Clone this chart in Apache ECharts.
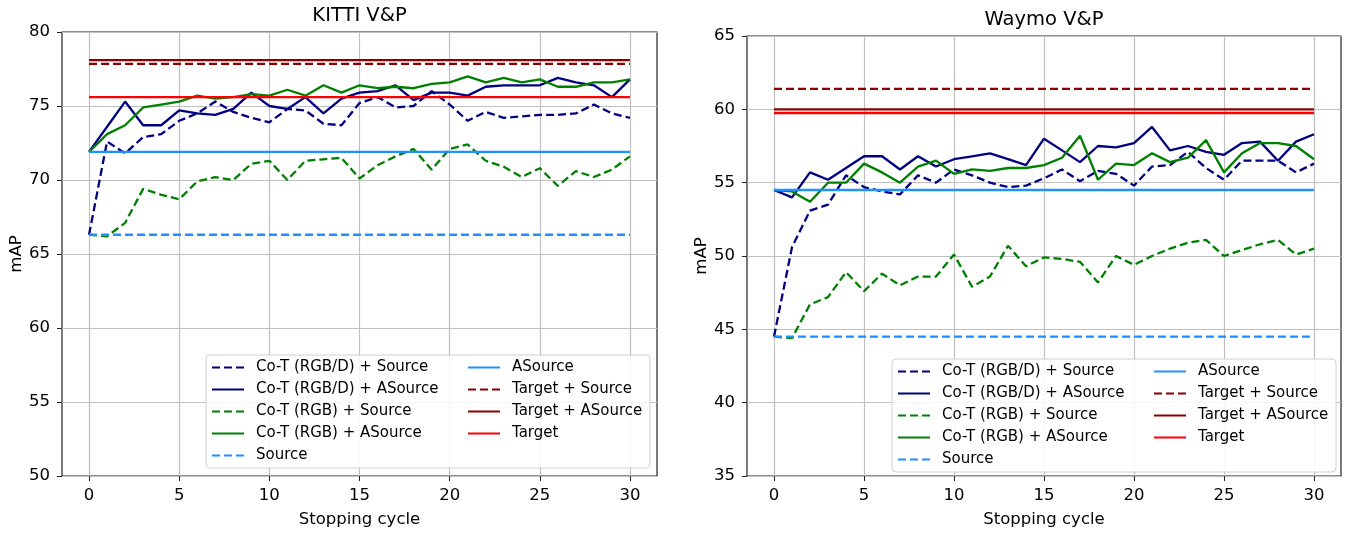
<!DOCTYPE html>
<html><head><meta charset="utf-8">
<script src="https://cdn.jsdelivr.net/npm/echarts@6/dist/echarts.min.js"></script>
<style>html,body{margin:0;padding:0;background:#fff}#c{width:1354px;height:533px}</style>
</head><body><div id="c"></div>
<script>
const cycles = [0,1,2,3,4,5,6,7,8,9,10,11,12,13,14,15,16,17,18,19,20,21,22,23,24,25,26,27,28,29,30];
const xTicks = [0,5,10,15,20,25,30];
const seriesNames = ['Co-T (RGB/D) + Source','Co-T (RGB/D) + ASource','Co-T (RGB) + Source','Co-T (RGB) + ASource','Source','ASource','Target + Source','Target + ASource','Target'];
const legendCol1 = ['Co-T (RGB/D) + Source','Co-T (RGB/D) + ASource','Co-T (RGB) + Source','Co-T (RGB) + ASource','Source'];
const legendCol2 = ['ASource','Target + Source','Target + ASource','Target'];

// KITTI V&P
const kittiRGBDSource  = [66.3,72.6,71.8,72.9,73.1,74.0,74.5,75.3,74.6,74.2,73.9,74.8,74.7,73.8,73.7,75.2,75.6,74.9,75.0,76.0,75.1,74.0,74.6,74.2,74.3,74.4,74.4,74.5,75.1,74.5,74.2];
const kittiRGBDASource = [71.9,73.6,75.3,73.7,73.7,74.7,74.5,74.4,74.8,75.9,75.0,74.8,75.6,74.5,75.5,75.9,76.0,76.4,75.4,75.9,75.9,75.7,76.3,76.4,76.4,76.4,76.9,76.6,76.4,75.6,76.8];
const kittiRGBSource   = [66.3,66.2,67.1,69.4,69.0,68.7,69.9,70.2,70.0,71.1,71.3,70.0,71.3,71.4,71.5,70.1,71.0,71.6,72.1,70.7,72.1,72.4,71.3,70.9,70.2,70.8,69.6,70.6,70.2,70.7,71.6];
const kittiRGBASource  = [71.9,73.1,73.7,74.9,75.1,75.3,75.7,75.5,75.6,75.8,75.7,76.1,75.7,76.4,75.9,76.4,76.2,76.3,76.2,76.5,76.6,77.0,76.6,76.9,76.6,76.8,76.3,76.3,76.6,76.6,76.8];
const kittiSource = 66.3, kittiASource = 71.9, kittiTargetSource = 77.85, kittiTargetASource = 78.1, kittiTarget = 75.6;

// Waymo V&P
const waymoRGBDSource  = [44.5,50.6,53.1,53.5,55.5,54.7,54.4,54.2,55.5,55.0,55.9,55.5,55.0,54.7,54.8,55.3,55.9,55.1,55.8,55.6,54.8,56.1,56.2,57.1,56.0,55.2,56.5,56.5,56.5,55.7,56.3];
const waymoRGBDASource = [54.5,54.0,55.7,55.2,56.0,56.8,56.8,55.9,56.8,56.1,56.6,56.8,57.0,56.6,56.2,58.0,57.2,56.4,57.5,57.4,57.7,58.8,57.2,57.5,57.1,56.9,57.7,57.8,56.5,57.8,58.3];
const waymoRGBSource   = [44.5,44.4,46.7,47.2,48.9,47.6,48.8,48.0,48.6,48.6,50.1,47.9,48.6,50.7,49.3,49.9,49.8,49.6,48.2,50.0,49.4,50.0,50.5,50.9,51.1,50.0,50.4,50.8,51.1,50.1,50.5];
const waymoRGBASource  = [54.5,54.4,53.7,55.0,55.0,56.3,55.7,55.0,56.1,56.5,55.6,55.9,55.8,56.0,56.0,56.2,56.7,58.2,55.2,56.3,56.2,57.0,56.4,56.7,57.9,55.7,57.0,57.7,57.7,57.5,56.6];
const waymoSource = 44.5, waymoASource = 54.5, waymoTargetSource = 61.4, waymoTargetASource = 60.0, waymoTarget = 59.75;

const FONT = 'DejaVu Sans';
const styles = [
  {color:'#000080', dash:true}, {color:'#000080', dash:false},
  {color:'#008000', dash:true}, {color:'#008000', dash:false},
  {color:'#1e90ff', dash:true}, {color:'#1e90ff', dash:false},
  {color:'#8b0000', dash:true}, {color:'#8b0000', dash:false},
  {color:'#ff0000', dash:false}
];
function flat(v){ return cycles.map(c => v); }
function mkSeries(idx, lists){
  return lists.map((vals, k) => ({
    name: seriesNames[k], type:'line', xAxisIndex: idx, yAxisIndex: idx,
    data: cycles.map((c,i) => [c, vals[i]]),
    symbol:'none', animation:false,
    lineStyle:{color: styles[k].color, width: 2.3, type: styles[k].dash ? [8,4] : 'solid'},
    itemStyle:{color: styles[k].color}, z: 2 + k*0.01
  }));
}
const kittiLists = [kittiRGBDSource,kittiRGBDASource,kittiRGBSource,kittiRGBASource,flat(kittiSource),flat(kittiASource),flat(kittiTargetSource),flat(kittiTargetASource),flat(kittiTarget)];
const waymoLists = [waymoRGBDSource,waymoRGBDASource,waymoRGBSource,waymoRGBASource,flat(waymoSource),flat(waymoASource),flat(waymoTargetSource),flat(waymoTargetASource),flat(waymoTarget)];

const grids = [
  {left:62, top:32, width:595, height:445},
  {left:747, top:36, width:594, height:445}
];
function xAx(i){
  return {gridIndex:i, type:'value', min:-1.5, max:31.5,
    name:'Stopping cycle', nameLocation:'middle', nameGap:35,
    nameTextStyle:{fontFamily:FONT, fontSize:16.5, color:'#000'},
    axisLine:{show:false, onZero:false},
    axisTick:{show:true, customValues:xTicks, length:5, lineStyle:{color:'#222'}},
    axisLabel:{customValues:xTicks, fontFamily:FONT, fontSize:16.5, color:'#000', margin:11},
    splitLine:{show:true, lineStyle:{color:'#c0c0c0', width:1.2}}};
}
function yAx(i, mn, mx){
  return {gridIndex:i, type:'value', min:mn, max:mx, interval:5,
    name:'mAP', nameLocation:'middle', nameGap:36,
    nameTextStyle:{fontFamily:FONT, fontSize:16.5, color:'#000'},
    axisLine:{show:false, onZero:false},
    axisTick:{show:true, length:5, lineStyle:{color:'#222'}},
    axisLabel:{fontFamily:FONT, fontSize:16.5, color:'#000', margin:12},
    splitLine:{show:true, lineStyle:{color:'#c0c0c0', width:1.2}}};
}
function legendPart(left, top, data){
  return {orient:'vertical', left:left, top:top, data:data, itemWidth:32, itemHeight:14, itemGap:7,
    selectedMode:false, padding:0, itemStyle:{opacity:0},
    textStyle:{fontFamily:FONT, fontSize:15, color:'#000', padding:[0,0,0,7]}};
}
const option = {
  backgroundColor:'#fff',
  animation:false,
  title:[
    {text:'KITTI V&P', left:359.5, top:6, padding:0, textAlign:'center', textStyle:{fontFamily:FONT, fontSize:19.5, fontWeight:'normal', color:'#000'}},
    {text:'Waymo V&P', left:1044, top:10, padding:0, textAlign:'center', textStyle:{fontFamily:FONT, fontSize:19.5, fontWeight:'normal', color:'#000'}}
  ],
  grid: grids.map(g => Object.assign({show:true, borderColor:'#222', borderWidth:1.2, backgroundColor:'transparent'}, g)),
  xAxis:[xAx(0), xAx(1)],
  yAxis:[yAx(0,50,80), yAx(1,35,65)],
  graphic:[
    {type:'rect', shape:{x:206, y:355, width:444, height:113, r:4}, style:{fill:'rgba(255,255,255,0.85)', stroke:'#d0d0d0', lineWidth:1}, z:3},
    {type:'rect', shape:{x:892, y:359, width:444, height:113, r:4}, style:{fill:'rgba(255,255,255,0.85)', stroke:'#d0d0d0', lineWidth:1}, z:3}
  ],
  legend:[
    legendPart(211, 360, legendCol1), legendPart(467, 360, legendCol2),
    legendPart(897, 364, legendCol1), legendPart(1153, 364, legendCol2)
  ],
  series: mkSeries(0, kittiLists).concat(mkSeries(1, waymoLists))
};
const chart = echarts.init(document.getElementById('c'), null, {renderer:'canvas'});
chart.setOption(option);
</script>
</body></html>
